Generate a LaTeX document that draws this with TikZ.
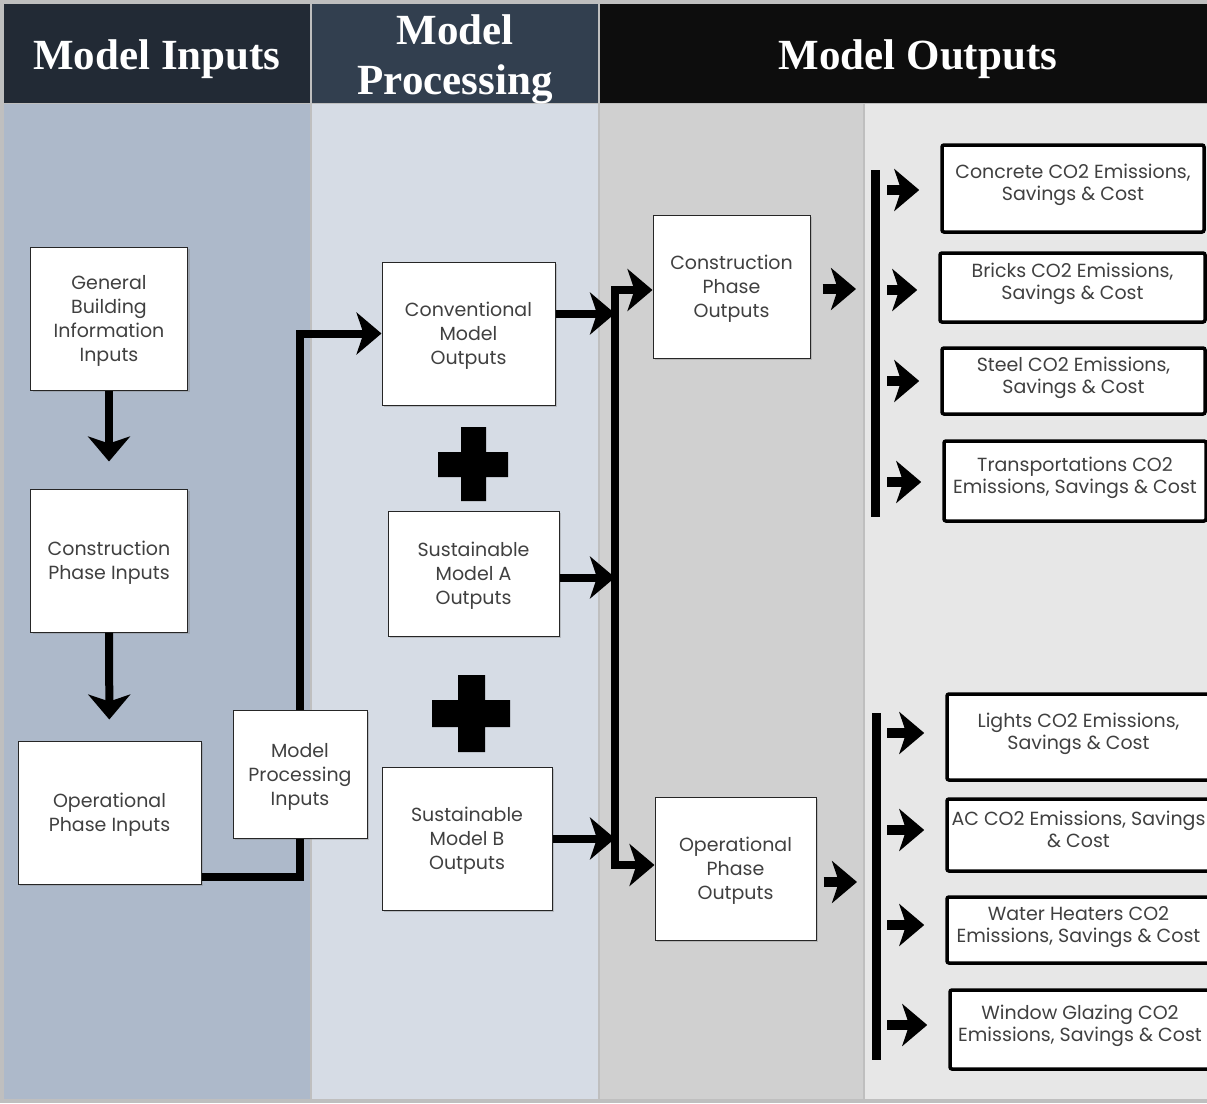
\documentclass[tikz,border=0pt]{standalone}
\usepackage{fontspec}
\setmainfont{Liberation Serif}
\newfontfamily\gothic{Poppins}
\usetikzlibrary{arrows.meta, shadows}

\definecolor{frame}{HTML}{BFBFBF}
\definecolor{hdin}{HTML}{222A35}
\definecolor{hdproc}{HTML}{323F4F}
\definecolor{hdout}{HTML}{0D0D0D}
\definecolor{colin}{HTML}{ADB9CA}
\definecolor{colproc}{HTML}{D6DCE5}
\definecolor{colout}{HTML}{D0D0D0}
\definecolor{colres}{HTML}{E7E7E7}
\definecolor{boxtext}{HTML}{404040}

\begin{document}
\begin{tikzpicture}[x=1pt, y=-1pt, >={Stealth[length=25pt,width=42pt,inset=7pt]},
  head/.style={text=white, font=\fontsize{43}{50}\selectfont\bfseries, align=center},
  midbox/.style={draw=black!85, line width=1pt, fill=white, align=center, text=boxtext,
    font=\gothic\fontsize{19}{24}\selectfont, inner sep=2pt, text depth=0pt,
    drop shadow={shadow xshift=2pt, shadow yshift=-2pt, opacity=.35}},
  outbox/.style={draw=black, line width=3.5pt, rounded corners=2pt, fill=white, align=center,
    text=boxtext, font=\gothic\fontsize{19}{22}\selectfont, inner sep=2pt, text depth=12pt},
  flow/.style={line width=8pt, line join=miter},
  link/.style={line width=10pt, ->}]
\useasboundingbox (0,0) rectangle (1207,1103);

% columns and headers
\fill[frame] (0,0) rectangle (1207,1103);
\fill[hdin] (4,4) rectangle (310,103);
\fill[hdproc] (312,4) rectangle (598,103);
\fill[hdout] (600,4) rectangle (1207,103);
\fill[colin] (4,104) rectangle (310,1099);
\fill[colproc] (312,104) rectangle (598,1099);
\fill[colout] (600,104) rectangle (863,1099);
\fill[colres] (865,104) rectangle (1207,1099);

\node[head] (hin) at (157,59) {Model Inputs};
\node[head] (hproc) at (455,59) {Model\\Processing};
\node[head] (hout) at (918,59) {Model Outputs};

% inputs
\node[midbox, minimum width=157, minimum height=143] (gen) at (109,318.5) {General\\Building\\Information\\Inputs};
\node[midbox, minimum width=157, minimum height=143] (cpi) at (109,560.5) {Construction\\Phase Inputs};
\node[midbox, minimum width=183, minimum height=143] (opi) at (109.5,812.5) {Operational\\Phase Inputs};
\node[midbox, minimum width=134, minimum height=128] (mpi) at (300,774) {Model\\Processing\\Inputs};

% processing
\node[midbox, minimum width=173, minimum height=143] (conv) at (468.5,333.5) {Conventional\\Model\\Outputs};
\node[midbox, minimum width=171, minimum height=125] (susa) at (473.5,573.5) {Sustainable\\Model A\\Outputs};
\node[midbox, minimum width=170, minimum height=143] (susb) at (467,838.5) {Sustainable\\Model B\\Outputs};

\fill (438,452) rectangle (508,477) (461,427) rectangle (486,501);
\fill (432,700) rectangle (510,727) (458,675) rectangle (485,752);

% outputs
\node[midbox, minimum width=157, minimum height=143] (cpo) at (731.5,286.5) {Construction\\Phase\\Outputs};
\node[midbox, minimum width=161, minimum height=143] (opo) at (735.5,868.5) {Operational\\Phase\\Outputs};

\foreach \nm/\cx/\cy/\w/\h/\txt in {
  conc/1073/188.5/262/87/{Concrete CO2 Emissions,\\Savings \& Cost},
  bric/1072.5/287.5/265/69/{Bricks CO2 Emissions,\\Savings \& Cost},
  steel/1073.5/381/263/66/{Steel CO2 Emissions,\\Savings \& Cost},
  trans/1075/481/262/80/{Transportations CO2\\Emissions, Savings \& Cost},
  light/1078.5/737/263/86/{Lights CO2 Emissions,\\Savings \& Cost},
  ac/1078.5/835/263/72/{AC CO2 Emissions, Savings\\\& Cost},
  water/1078.5/930/263/66/{Water Heaters CO2\\Emissions, Savings \& Cost},
  glaze/1080/1029.5/260/79/{Window Glazing CO2\\Emissions, Savings \& Cost}}
  \node[outbox, minimum width=\w, minimum height=\h] (\nm) at (\cx,\cy) {\txt};

% connectors
\coordinate (jtop) at (615,290);
\coordinate (jbot) at (615,865);
\coordinate (cpo-out) at (856,289);
\coordinate (opo-out) at (857,882);
\coordinate (bar) at (887,0);

\draw[flow, ->, shorten >=27pt] (gen) -- (cpi);
\draw[flow, ->, shorten >=21pt] (cpi) -- (opi);
\draw[flow] ([yshift=8pt]opi.south east) -| (mpi.south);
\draw[flow, ->] (mpi.north) |- (conv.west);

\draw[flow, ->] ([yshift=20pt]conv.east) -- ([yshift=20pt]conv.east -| jtop);
\draw[flow, ->] ([yshift=-4pt]susa.east) -- ([yshift=-4pt]susa.east -| jtop);
\draw[flow, ->] (susb.east) -- (susb.east -| jtop);
\draw[flow, <->] (jtop -| cpo.west) -- (jtop) -- (jbot) -- (jbot -| opo.west);

\draw[link] ([xshift=12pt]cpo.east |- cpo-out) -- (cpo-out);
\draw[link] ([xshift=7pt]opo.east |- opo-out) -- (opo-out);

\draw[line width=9pt] (875,170) -- (875,517);
\draw[line width=9pt] (876,713) -- (876,1060);
\foreach \nm/\dy in {conc/-1.5,bric/-2.5,steel/0,trans/-1,light/4,ac/5,water/5,glaze/4.5}
  \draw[link, shorten >=21pt] ([yshift=\dy pt]bar |- \nm.west) -- ([yshift=\dy pt]\nm.west);
\end{tikzpicture}
\end{document}
